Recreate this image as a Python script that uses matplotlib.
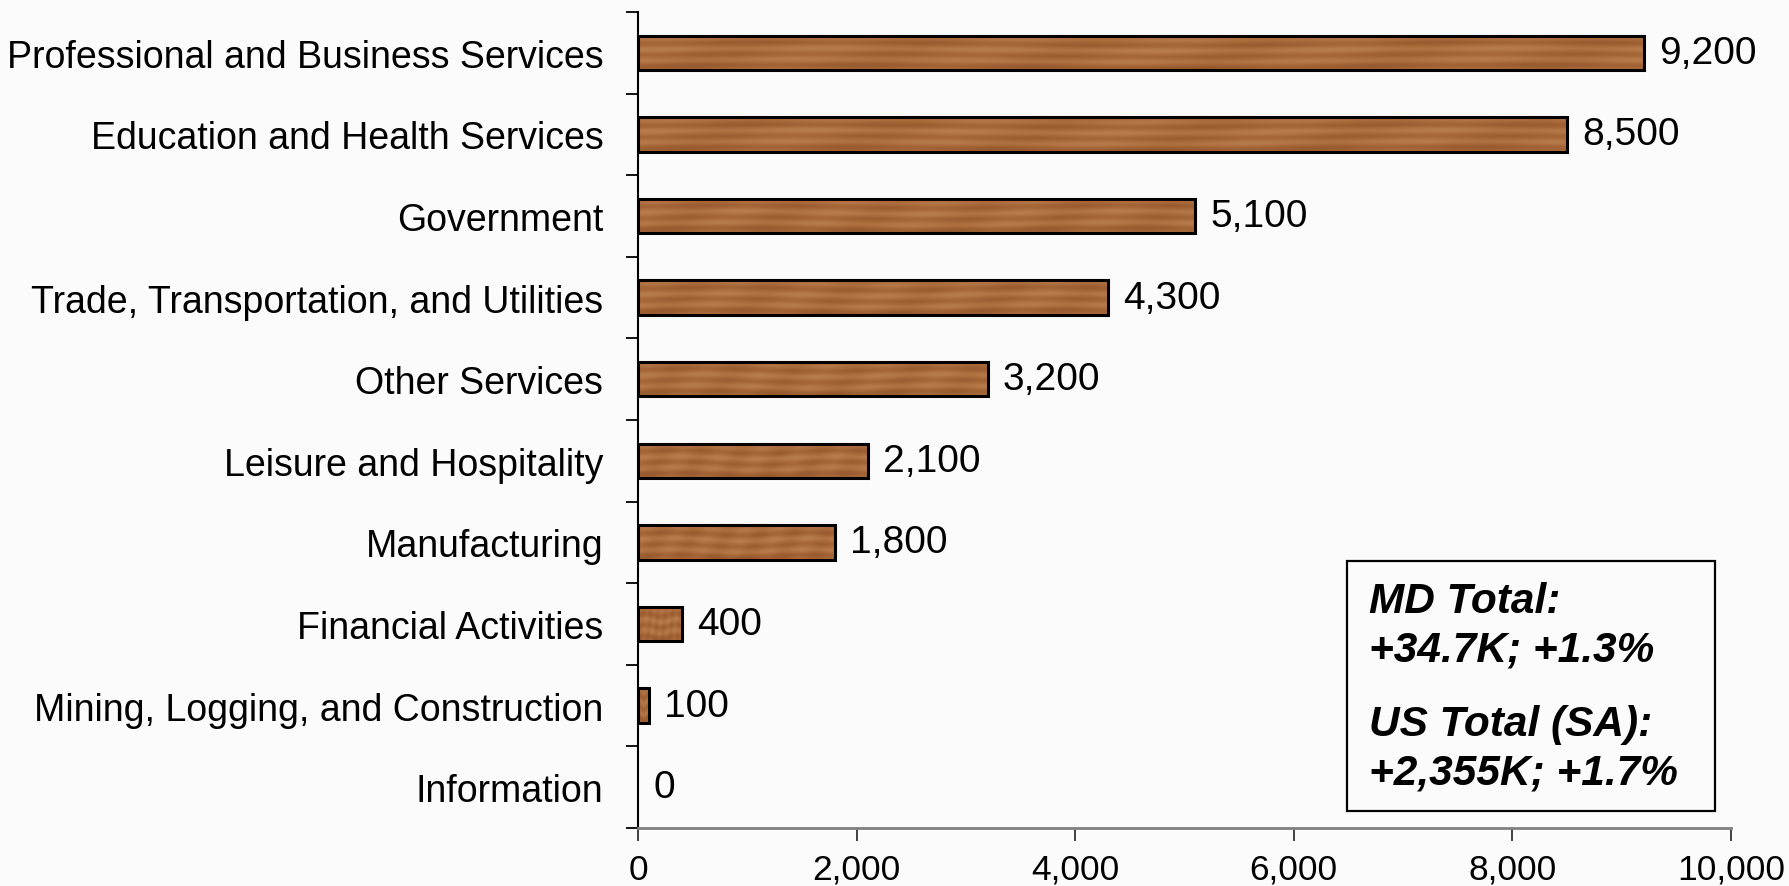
import numpy as np
import matplotlib
matplotlib.use('Agg')
import matplotlib.pyplot as plt
from matplotlib.ticker import FuncFormatter, FixedLocator
from matplotlib.patches import Rectangle

plt.rcParams['font.family'] = ['Liberation Sans', 'DejaVu Sans']

# job change by sector, top row first
sectors = [
    "Professional and Business Services",
    "Education and Health Services",
    "Government",
    "Trade, Transportation, and Utilities",
    "Other Services",
    "Leisure and Hospitality",
    "Manufacturing",
    "Financial Activities",
    "Mining, Logging, and Construction",
    "Information",
]
job_change = [9200, 8500, 5100, 4300, 3200, 2100, 1800, 400, 100, 0]
x_ticks = [0, 2000, 4000, 6000, 8000, 10000]

md_note = ["MD Total:", "+34.7K; +1.3%"]
us_note = ["US Total (SA):", "+2,355K; +1.7%"]

BG = "#fbfbfb"
WOOD = "#ad6e3e"

fig = plt.figure(figsize=(17.89, 8.87), dpi=100, facecolor=BG)
ax = fig.add_axes([638 / 1789, 58 / 887, (1731 - 638) / 1789, (829 - 13) / 887])
ax.set_facecolor(BG)

y = np.arange(len(sectors))
bars = ax.barh(y, job_change, height=0.42, color=WOOD, edgecolor="none", zorder=3)

# wood-grain fill: soft horizontal streaks clipped to each bar
rows = np.linspace(0, 1, 30)[:, None]
cols = np.linspace(0, 1, 600)[None, :]
grain = (0.5 + 0.18 * np.sin(rows * 19.0 + 0.8 * np.sin(cols * 9.0))
         + 0.08 * np.sin(cols * 37.0 + rows * 3.0) - 0.15 * (rows - 0.5) ** 2 * 4)
wood_cmap = matplotlib.colors.LinearSegmentedColormap.from_list("wood", ["#8f5228", "#ac6d3d", "#c48b5b"])
for b, v in zip(bars, job_change):
    if v <= 0:
        continue
    x0, y0 = b.get_x(), b.get_y()
    im = ax.imshow(grain, cmap=wood_cmap, aspect="auto", vmin=0, vmax=1, interpolation="bilinear",
                   extent=(x0, x0 + b.get_width(), y0 + b.get_height(), y0), zorder=3.5)
    im.set_clip_path(b)
    ax.add_patch(Rectangle((x0, y0), b.get_width(), b.get_height(), fill=False,
                           edgecolor="black", linewidth=2.2, zorder=4))

for yi, v in zip(y, job_change):
    ax.annotate(f"{v:,}", (v, yi), xytext=(11, 0), textcoords="offset points",
                va="center", ha="left", fontsize=28)

ax.set_xlim(0, 10000)
ax.set_ylim(len(sectors) - 0.5, -0.5)
ax.set_yticks(y)
ax.set_yticklabels(sectors, fontsize=27)
ax.yaxis.set_minor_locator(FixedLocator(np.arange(-0.5, len(sectors), 1.0)))
ax.tick_params(axis="y", which="major", length=0, pad=25)
ax.tick_params(axis="y", which="minor", length=9, width=1.3, color="black")

ax.set_xticks(x_ticks)
ax.xaxis.set_major_formatter(FuncFormatter(lambda v, _: f"{int(v):,}"))
ax.tick_params(axis="x", labelsize=25.5, length=9, width=1.3, color="#333333", pad=9)

for side in ("top", "right"):
    ax.spines[side].set_visible(False)
ax.spines["left"].set_linewidth(1.5)
ax.spines["left"].set_color("black")
ax.spines["bottom"].set_linewidth(2)
ax.spines["bottom"].set_color("#808080")

# summary box
fig.patches.append(Rectangle((1347 / 1789, 1 - 812 / 887), (1715 - 1347) / 1789, (812 - 562) / 887,
                             transform=fig.transFigure, facecolor=BG, edgecolor="black",
                             linewidth=1.6, zorder=5))
for lines, base in ((md_note, 613), (us_note, 736)):
    for i, line in enumerate(lines):
        fig.text(1369 / 1789, 1 - (base + 49 * i) / 887, line, fontsize=30.5, fontweight="bold",
                 fontstyle="italic", ha="left", va="baseline", zorder=6)

fig.savefig("out.png", dpi=100, facecolor=BG)
